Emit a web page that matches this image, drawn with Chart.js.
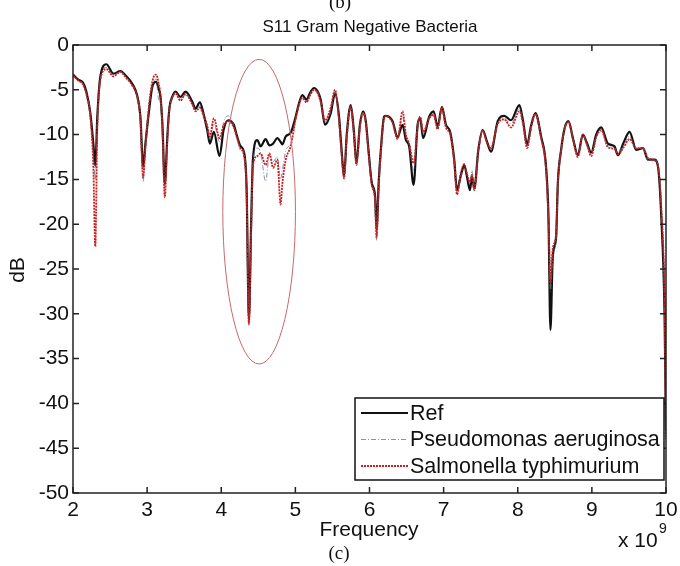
<!DOCTYPE html>
<html>
<head>
<meta charset="utf-8">
<script src="https://cdn.jsdelivr.net/npm/chart.js@4/dist/chart.umd.min.js"></script>
<style>
  html, body { margin: 0; padding: 0; background: #fff; }
  canvas { display: block; }
</style>
</head>
<body>
<canvas id="c" width="680" height="566"></canvas>
<script>
// frequency in GHz (axis shows x 10^9)
const freq = [
  2.000, 2.076, 2.135, 2.180, 2.234, 2.274, 2.301, 2.328, 2.369, 2.450,
  2.545, 2.639, 2.720, 2.797, 2.865, 2.909, 2.946, 2.977, 3.022, 3.072,
  3.122, 3.153, 3.180, 3.207, 3.238, 3.274, 3.301, 3.338, 3.382, 3.450,
  3.518, 3.608, 3.653, 3.711, 3.765, 3.811, 3.846, 3.900, 3.977, 4.031,
  4.092, 4.170, 4.207, 4.261, 4.305, 4.342, 4.373, 4.403, 4.427, 4.486,
  4.531, 4.599, 4.650, 4.700, 4.757, 4.800, 4.824, 4.870, 4.936, 5.004,
  5.049, 5.095, 5.149, 5.200, 5.251, 5.301, 5.342, 5.400, 5.477, 5.535,
  5.589, 5.626, 5.657, 5.693, 5.747, 5.788, 5.824, 5.869, 5.914, 5.950,
  5.986, 6.031, 6.076, 6.095, 6.126, 6.153, 6.197, 6.220, 6.311, 6.378,
  6.446, 6.491, 6.535, 6.595, 6.649, 6.684, 6.724, 6.805, 6.865, 6.919,
  6.977, 7.031, 7.089, 7.143, 7.180, 7.234, 7.278, 7.315, 7.355, 7.382,
  7.414, 7.468, 7.527, 7.585, 7.639, 7.730, 7.819, 7.909, 8.022, 8.072,
  8.126, 8.180, 8.238, 8.315, 8.382, 8.414, 8.441, 8.473, 8.518, 8.541,
  8.585, 8.632, 8.684, 8.747, 8.811, 8.878, 8.936, 8.991, 9.058, 9.126,
  9.216, 9.305, 9.351, 9.423, 9.508, 9.599, 9.689, 9.757, 9.846, 9.892,
  9.936, 9.981, 9.995, 10.000
];

const refDb = [
  -3.3, -3.9, -4.2, -5.2, -7.6, -11.0, -13.5, -8.0, -3.5, -2.15,
  -3.2, -2.9, -3.5, -4.3, -5.6, -8.0, -13.6, -11.0, -7.6, -4.6,
  -4.1, -4.8, -5.8, -9.0, -15.5, -10.0, -7.0, -5.8, -5.2, -5.8,
  -5.2, -6.3, -7.1, -6.4, -7.8, -9.5, -11.0, -9.7, -12.4, -9.5,
  -8.4, -8.9, -10.0, -11.3, -11.9, -16.0, -30.7, -20.0, -12.8, -10.6,
  -11.3, -10.5, -11.2, -11.0, -10.4, -10.8, -11.1, -10.2, -9.8, -8.0,
  -6.5, -5.6, -6.1, -5.3, -4.8, -5.2, -6.1, -8.9, -7.6, -5.4,
  -8.0, -12.0, -14.7, -10.0, -6.7, -9.5, -13.2, -9.0, -7.4, -8.5,
  -11.7, -15.4, -16.9, -20.6, -15.0, -11.7, -8.0, -7.9, -8.5, -10.3,
  -8.9, -10.6, -11.3, -15.6, -8.9, -8.2, -10.4, -8.0, -7.4, -9.1,
  -6.9, -8.9, -9.7, -12.8, -16.2, -14.5, -13.4, -14.7, -16.2, -14.7,
  -16.0, -11.7, -9.5, -10.8, -11.9, -8.5, -7.9, -8.4, -6.7, -8.5,
  -11.1, -9.0, -7.6, -10.2, -13.6, -19.1, -31.8, -23.6, -21.4, -15.4,
  -11.7, -9.3, -8.5, -10.5, -12.3, -10.0, -11.0, -12.0, -10.0, -9.2,
  -11.0, -11.3, -12.3, -11.0, -9.7, -11.7, -11.5, -12.8, -12.8, -13.6,
  -19.1, -30.3, -40.0, -43.0
];

const pseudoDb = [
  -3.5, -4.0, -4.3, -5.4, -7.8, -12.0, -15.0, -8.5, -3.7, -2.5,
  -3.3, -3.0, -3.6, -4.4, -5.7, -8.2, -15.3, -11.2, -7.3, -4.5,
  -3.8, -6.0, -6.5, -9.2, -16.0, -10.2, -7.1, -5.8, -5.3, -6.0,
  -5.4, -6.5, -7.3, -6.8, -7.9, -9.3, -10.6, -8.8, -10.8, -8.6,
  -7.9, -9.0, -10.1, -11.5, -12.0, -16.2, -31.0, -20.5, -13.0, -11.5,
  -12.0, -15.2, -12.3, -13.0, -12.5, -15.0, -14.0, -11.8, -11.0, -8.2,
  -6.6, -5.8, -6.3, -5.5, -4.9, -5.3, -6.3, -8.6, -7.4, -5.2,
  -8.2, -12.2, -14.8, -10.1, -6.8, -9.6, -13.3, -9.1, -7.5, -8.6,
  -11.8, -15.5, -17.0, -21.8, -15.2, -11.8, -8.1, -7.9, -8.6, -10.4,
  -8.0, -10.3, -11.1, -14.0, -9.0, -8.1, -9.9, -8.1, -7.6, -9.2,
  -7.0, -9.0, -9.8, -12.9, -16.6, -14.6, -13.8, -14.3, -15.5, -14.0,
  -15.8, -11.8, -9.6, -10.9, -11.7, -8.7, -8.2, -8.8, -7.1, -8.6,
  -11.3, -9.1, -7.7, -10.3, -13.8, -19.3, -27.5, -23.6, -21.5, -15.5,
  -11.7, -9.3, -8.5, -10.5, -12.3, -10.0, -11.1, -12.2, -10.2, -9.4,
  -11.2, -11.5, -12.1, -11.2, -10.2, -11.6, -11.5, -12.9, -12.8, -13.6,
  -18.5, -29.5, -41.0, -43.5
];

const salmonellaDb = [
  -3.4, -4.0, -4.4, -5.5, -8.0, -13.5, -22.5, -9.5, -3.9, -2.7,
  -3.5, -3.0, -3.7, -4.5, -5.8, -8.3, -14.8, -11.5, -7.0, -4.0,
  -3.3, -4.2, -5.6, -9.5, -17.0, -10.5, -7.2, -5.9, -5.4, -6.2,
  -5.5, -6.6, -7.4, -7.0, -8.0, -9.0, -10.2, -8.2, -10.4, -9.0,
  -8.5, -9.2, -10.2, -11.6, -12.3, -16.5, -31.2, -21.0, -13.5, -12.4,
  -12.1, -13.4, -12.1, -13.7, -12.8, -17.8, -15.5, -12.8, -11.3, -8.3,
  -6.7, -5.9, -6.4, -5.6, -5.0, -5.4, -6.4, -8.4, -7.0, -5.0,
  -8.5, -12.5, -14.9, -10.3, -6.9, -9.8, -13.4, -9.3, -7.6, -8.7,
  -11.9, -15.6, -17.5, -21.5, -15.5, -12.0, -8.2, -7.9, -8.7, -10.5,
  -7.4, -10.0, -11.0, -13.2, -9.2, -8.0, -9.7, -8.2, -7.8, -9.4,
  -7.0, -9.2, -10.0, -13.0, -16.7, -14.2, -13.3, -14.4, -15.3, -14.5,
  -16.2, -11.9, -9.5, -10.9, -11.5, -8.8, -8.3, -9.2, -7.4, -8.8,
  -11.5, -9.2, -7.7, -10.4, -14.0, -19.5, -26.6, -22.7, -21.0, -15.5,
  -11.8, -9.4, -8.6, -10.6, -12.5, -10.0, -11.2, -12.4, -10.3, -9.5,
  -11.4, -11.6, -12.2, -11.5, -10.5, -11.5, -11.5, -12.6, -12.9, -13.5,
  -18.0, -29.0, -40.5, -44.0
];

const seriesNames = ["Ref", "Pseudomonas aeruginosa", "Salmonella typhimurium"];
const xTicks = [2, 3, 4, 5, 6, 7, 8, 9, 10];
const yTicks = [0, -5, -10, -15, -20, -25, -30, -35, -40, -45, -50];

// highlight ellipse around the 4-5 GHz region (data units)
const ellipse = { cx: 4.511, cy: -18.6, rx: 0.49, ry: 17.0 };

const FONT = "'Liberation Sans', Arial, sans-serif";
const SERIF = "'Liberation Serif', 'Times New Roman', serif";

const styles = [
  { color: "#111111", width: 2.2, dash: [] },
  { color: "rgba(95,110,145,0.75)", width: 1, dash: [5, 2, 1, 2] },
  { color: "#c8201f", width: 1.8, dash: [2, 1] },
];

const toPoints = (vals) => freq.map((f, i) => ({ x: f, y: vals[i] }));

const frame = {
  id: "frame",
  afterDatasetsDraw(chart) {
    const { ctx, chartArea: a, scales: { x, y } } = chart;
    ctx.save();
    // ellipse
    const px = x.getPixelForValue(ellipse.cx);
    const py = y.getPixelForValue(ellipse.cy);
    const rx = Math.abs(x.getPixelForValue(ellipse.cx + ellipse.rx) - px);
    const ry = Math.abs(y.getPixelForValue(ellipse.cy + ellipse.ry) - py);
    ctx.strokeStyle = "#c46a6a";
    ctx.lineWidth = 1;
    ctx.beginPath();
    ctx.ellipse(px, py, rx, ry, 0, 0, Math.PI * 2);
    ctx.stroke();

    // box + inward ticks
    ctx.strokeStyle = "#222";
    ctx.lineWidth = 1.5;
    ctx.strokeRect(a.left, a.top, a.right - a.left, a.bottom - a.top);
    ctx.beginPath();
    xTicks.forEach((v) => {
      const p = x.getPixelForValue(v);
      ctx.moveTo(p, a.bottom); ctx.lineTo(p, a.bottom - 6);
      ctx.moveTo(p, a.top); ctx.lineTo(p, a.top + 6);
    });
    yTicks.forEach((v) => {
      const p = y.getPixelForValue(v);
      ctx.moveTo(a.left, p); ctx.lineTo(a.left + 6, p);
      ctx.moveTo(a.right, p); ctx.lineTo(a.right - 6, p);
    });
    ctx.stroke();

    // legend
    const lx = 355, ly = 398, lw = a.right - 2 - lx, lh = 82;
    ctx.fillStyle = "#fff";
    ctx.fillRect(lx, ly, lw, lh);
    ctx.strokeStyle = "#111";
    ctx.lineWidth = 1.5;
    ctx.strokeRect(lx, ly, lw, lh);
    ctx.font = "21.5px " + FONT;
    ctx.textBaseline = "middle";
    ctx.textAlign = "left";
    seriesNames.forEach((name, i) => {
      const yy = ly + 15 + i * 26.5;
      const s = styles[i];
      ctx.strokeStyle = s.color;
      ctx.lineWidth = s.width;
      ctx.setLineDash(s.dash);
      ctx.beginPath();
      ctx.moveTo(lx + 6, yy); ctx.lineTo(lx + 53, yy);
      ctx.stroke();
      ctx.setLineDash([]);
      ctx.fillStyle = "#111";
      ctx.fillText(name, lx + 55, yy + 1);
    });

    // texts
    ctx.fillStyle = "#111";
    ctx.textAlign = "center";
    ctx.font = "17px " + FONT;
    ctx.fillText("S11 Gram Negative Bacteria", 370, 27);
    ctx.font = "21px " + FONT;
    ctx.fillText("Frequency", 369, 530);
    ctx.textAlign = "left";
    ctx.fillText("x 10", 618, 541);
    ctx.font = "14px " + FONT;
    ctx.fillText("9", 659, 529);
    ctx.font = "19px " + SERIF;
    ctx.textAlign = "center";
    ctx.fillText("(c)", 339, 554);
    ctx.fillText("(b)", 340, 3);
    ctx.save();
    ctx.translate(18, 270);
    ctx.rotate(-Math.PI / 2);
    ctx.font = "21px " + FONT;
    ctx.fillText("dB", 0, 0);
    ctx.restore();
    ctx.restore();
  },
};

new Chart(document.getElementById("c"), {
  type: "line",
  data: {
    datasets: [
      { label: seriesNames[0], data: toPoints(refDb), order: 3 },
      { label: seriesNames[1], data: toPoints(pseudoDb), order: 2 },
      { label: seriesNames[2], data: toPoints(salmonellaDb), order: 1 },
    ].map((d, i) => ({
      ...d,
      borderColor: styles[i].color,
      borderWidth: styles[i].width,
      borderDash: styles[i].dash,
      pointRadius: 0,
      fill: false,
      cubicInterpolationMode: "monotone",
    })),
  },
  options: {
    responsive: false,
    animation: false,
    layout: { padding: { top: 45, right: 14, left: 0, bottom: 0 } },
    plugins: { legend: { display: false }, tooltip: { enabled: false } },
    scales: {
      x: {
        type: "linear",
        min: 2,
        max: 10,
        afterBuildTicks: (s) => { s.ticks = xTicks.map((v) => ({ value: v })); },
        afterFit: (s) => { s.height = 73; s.paddingLeft = 0; s.paddingRight = 0; },
        grid: { display: false, drawTicks: false },
        border: { display: false },
        ticks: { color: "#111", font: { family: FONT, size: 21 }, padding: 5, maxRotation: 0 },
      },
      y: {
        min: -50,
        max: 0,
        afterBuildTicks: (s) => { s.ticks = yTicks.map((v) => ({ value: v })); },
        afterFit: (s) => { s.width = 73; s.paddingTop = 0; s.paddingBottom = 0; },
        grid: { display: false, drawTicks: false },
        border: { display: false },
        ticks: { color: "#111", font: { family: FONT, size: 21 }, padding: 4 },
      },
    },
  },
  plugins: [frame],
});
</script>
</body>
</html>
